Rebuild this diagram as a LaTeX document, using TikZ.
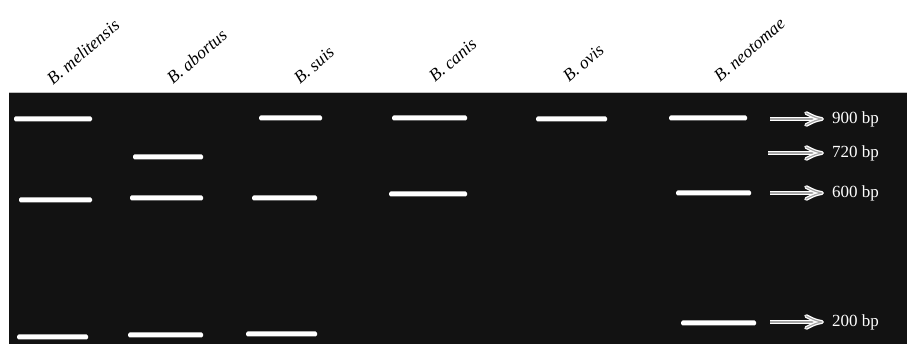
\documentclass[tikz,border=0pt]{standalone}
\usepackage{fontspec}
\setmainfont{Liberation Serif}
\definecolor{gel}{HTML}{121212}
\tikzset{
  band/.style={fill=white, draw=none, minimum height=5pt, inner sep=0pt, rounded corners=1.5pt},
  species/.style={anchor=base west, rotate=41, inner sep=0pt, font=\fontsize{17.5}{19}\selectfont\itshape},
  sizelbl/.style={anchor=west, inner sep=0pt, text=white, font=\fontsize{17}{19}\selectfont},
  shaft/.style={draw=white, line width=1.4pt, double=gray!70, double distance=1.8pt},
  head/.style={draw=white, line width=1.3pt, double=gray!70, double distance=1.2pt, line join=round, line cap=round}
}
\newcommand{\markerarrow}[3][]{%
  \coordinate (#3) at ([xshift=-10pt]#2.west);
  \draw[shaft,#1] (#3-s) -- ([xshift=-4pt]#3);
  \draw[head] ([shift={(-16,-6)}]#3) .. controls ([shift={(-7,-1.5)}]#3) .. (#3)
              .. controls ([shift={(-7,1.5)}]#3) .. ([shift={(-16,6)}]#3);
}
\begin{document}
\begin{tikzpicture}[x=1pt,y=-1pt]
\useasboundingbox (0,0) rectangle (907,344);
\fill[white] (0,0) rectangle (907,344);
\fill[gel] (9,93) rectangle (907,344);
\draw[gray!50, line width=0.6pt] (9,92.7) -- (907,92.7);
% species labels
\node[species] (lmel) at (53,86) {B. melitensis};
\node[species] (labo) at (173,85) {B. abortus};
\node[species] (lsui) at (300,85) {B. suis};
\node[species] (lcan) at (435,83) {B. canis};
\node[species] (lovi) at (569,83) {B. ovis};
\node[species] (lneo) at (720,83) {B. neotomae};
% bands
\foreach \n/\c/\w/\y in {
  mel1/53/78/119, mel2/55.5/73/200, mel3/52.5/71/337,
  abo1/168/70/157, abo2/166.5/73/198, abo3/165.5/75/335,
  sui1/290.5/63/118, sui2/284.5/65/198, sui3/281.5/71/334,
  can1/429.5/75/118, can2/428/78/194,
  ovi1/571.5/71/119,
  neo1/708/78/118, neo2/713.5/75/193, neo3/718.5/75/323}
  \node[band, minimum width=\w pt] (\n) at (\c,\y) {};
% size markers
\node[sizelbl] (s900) at (832,119) {900 bp};
\node[sizelbl] (s720) at (832,153) {720 bp};
\node[sizelbl] (s600) at (832,193) {600 bp};
\node[sizelbl] (s200) at (832,322) {200 bp};
\coordinate (t900-s) at (770,119);
\coordinate (t720-s) at (768,153);
\coordinate (t600-s) at (770,193);
\coordinate (t200-s) at (770,322);
\markerarrow{s900}{t900}
\markerarrow[line width=1.1pt, double distance=1.4pt]{s720}{t720}
\markerarrow{s600}{t600}
\markerarrow{s200}{t200}
\end{tikzpicture}
\end{document}
